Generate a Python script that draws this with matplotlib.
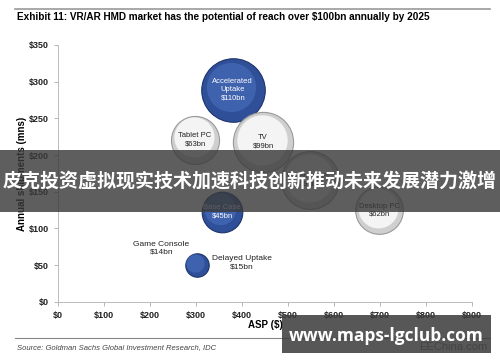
import numpy as np
import matplotlib.pyplot as plt
from matplotlib.patches import Rectangle
from matplotlib.lines import Line2D

plt.rcParams['font.family'] = ['Liberation Sans', 'DejaVu Sans']

# bubble data: ASP ($), annual shipments (mns), market size ($bn)
names = ['Accelerated\nUptake', 'Tablet PC', 'TV', 'Notebook PC', 'Base Case',
         'Desktop PC', 'Delayed Uptake', 'Game Console']
asp = [380, 298, 446, 548, 357, 698, 302, 230]
ships = [289, 221, 218, 166, 123, 125, 50, 80]
market = [110, 63, 99, 91, 45, 62, 15, 14]
kind = ['vr', 'dev', 'dev', 'dev', 'vr', 'dev', 'vr', 'none']

xticks = [0, 100, 200, 300, 400, 500, 600, 700, 800, 900]
yticks = [0, 50, 100, 150, 200, 250, 300, 350]

fig = plt.figure(figsize=(5, 3.62), dpi=100)
ax = fig.add_axes([0.116, 0.166, 0.828, 0.71])
ax.set_xlim(0, 900)
ax.set_ylim(0, 350)

# bubbles with a simple shaded look
for i in range(len(names)):
    if kind[i] == 'none':
        continue
    s = market[i] * 19
    if kind[i] == 'vr':
        ax.scatter(asp[i], ships[i], s=s, color='#2f4f98', edgecolor='#1d336b', lw=0.8, zorder=3)
        ax.scatter(asp[i] - 4, ships[i] + 3, s=s * 0.6, color='#4468b4', lw=0, zorder=3, alpha=0.8)
    else:
        ax.scatter(asp[i], ships[i], s=s, color='#cfcfcf', edgecolor='#9a9a9a', lw=0.8, zorder=3)
        ax.scatter(asp[i] - 3, ships[i] + 3, s=s * 0.7, color='#f4f4f4', lw=0, zorder=3)

def lab(i):
    return names[i] + '\n$' + str(market[i]) + 'bn'

for i in [0, 4]:
    ax.text(asp[i], ships[i], lab(i), ha='center', va='center', fontsize=5.5,
            color='white', zorder=4)
for i in [1, 2, 3, 5]:
    ax.text(asp[i], ships[i], lab(i), ha='center', va='center', fontsize=5.5,
            color='#222222', zorder=4)
ax.text(asp[6] + 32, ships[6] + 3, lab(6), ha='left', va='center', fontsize=6,
        color='#222222', multialignment='center', zorder=4)
ax.text(asp[7] - 5, ships[7] - 7, lab(7), ha='center', va='center', fontsize=6, color='#222222', zorder=4)

ax.set_xticks(xticks)
ax.set_xticklabels(['$' + str(v) for v in xticks])
ax.set_yticks(yticks)
ax.set_yticklabels(['$' + str(v) for v in yticks])
ax.tick_params(labelsize=6.5, colors='#aaaaaa', labelcolor='#222222', length=3, width=0.6)
for t in ax.get_xticklabels() + ax.get_yticklabels():
    t.set_fontweight('bold')
for sp in ['top', 'right']:
    ax.spines[sp].set_visible(False)
for sp in ['left', 'bottom']:
    ax.spines[sp].set_color('#bbbbbb')
    ax.spines[sp].set_linewidth(0.7)
ax.set_ylabel('Annual shipments (mns)', fontsize=7, fontweight='bold', labelpad=1)
fig.text(0.53, 0.103, 'ASP ($)', fontsize=7, fontweight='bold', ha='center', va='center')

# title, rules and source
fig.add_artist(Line2D([0.03, 0.98], [0.975, 0.975], color='#999999', lw=1.2))
fig.text(0.034, 0.952, 'Exhibit 11: VR/AR HMD market has the potential of reach over $100bn annually by 2025',
         fontsize=7.2, fontweight='bold', va='center')
fig.add_artist(Line2D([0.03, 0.98], [0.067, 0.067], color='#888888', lw=0.8))
fig.text(0.034, 0.041, 'Source: Goldman Sachs Global Investment Research, IDC',
         fontsize=5.5, style='italic', color='#444444', va='center')
fig.text(0.975, 0.041, 'EEChina.com', fontsize=8, color='#777777', ha='right', va='center')

# overlay banners
fig.add_artist(Rectangle((0, 0.414), 1, 0.172, transform=fig.transFigure,
                         color='#3a3a3a', alpha=0.82, lw=0, zorder=10))
fig.text(0.5, 0.5, '皮克投资虚拟现实技术加速科技创新推动未来发展潜力激增', fontsize=13.7,
         fontweight='bold', color='white', ha='center', va='center', zorder=11,
         family=['Noto Sans CJK SC', 'DejaVu Sans'])
fig.add_artist(Rectangle((0.564, 0.025), 0.418, 0.105, transform=fig.transFigure,
                         color='#3a3a3a', alpha=0.85, lw=0, zorder=10))
fig.text(0.773, 0.072, 'www.maps-lgclub.com', fontsize=12.5, fontweight='bold',
         color='white', ha='center', va='center', zorder=11, family=['Open Sans', 'DejaVu Sans'])

fig.savefig('out.png', dpi=100)
